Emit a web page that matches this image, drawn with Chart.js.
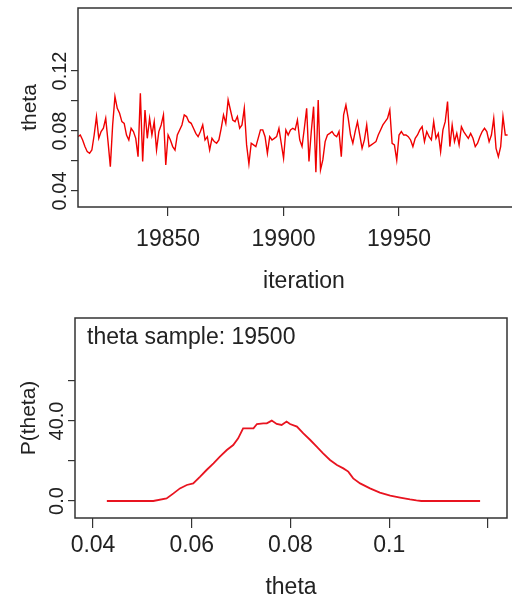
<!DOCTYPE html>
<html>
<head>
<meta charset="utf-8">
<script src="https://cdn.jsdelivr.net/npm/chart.js@4.4.0/dist/chart.umd.min.js"></script>
<style>
  html, body { margin: 0; padding: 0; background: #fff; overflow: hidden; }
  #wrap { position: relative; width: 512px; height: 601px; overflow: hidden; }
  #trace { position: absolute; left: 0; top: 0; }
  #dens { position: absolute; left: 0; top: 300px; }
</style>
</head>
<body>
<div id="wrap">
  <canvas id="trace" width="530" height="300"></canvas>
  <canvas id="dens" width="512" height="301"></canvas>
</div>
<script>
// trace plot: theta per iteration, starting at iteration 19811
const iterStart = 19811;
const thetaTrace = [
  0.0762,0.0773,0.074,0.0696,0.0662,0.0651,0.0673,0.0773,0.0896,0.0751,
  0.0796,0.0818,0.0884,0.0729,0.0562,0.084,0.1029,0.0951,0.0918,0.0862,
  0.0851,0.0773,0.074,0.0818,0.0796,0.0751,0.0629,0.1051,0.0596,0.094,
  0.0751,0.0884,0.0773,0.0862,0.0673,0.0796,0.084,0.0907,0.0573,0.0773,
  0.074,0.0696,0.0673,0.0773,0.0807,0.084,0.0907,
  0.0896,0.0862,0.0851,0.0818,0.0784,0.0762,0.0796,0.084,0.074,0.0762,
  0.0673,0.0751,0.0729,0.0718,0.074,0.0818,0.0907,0.0851,0.1007,0.094,
  0.0873,0.0862,0.0896,0.0818,0.084,0.0951,0.0707,0.058,0.0718,0.0707,
  0.0696,0.0751,0.0807,0.0807,0.0762,0.0651,0.0762,0.074,0.0751,0.0762,
  0.0818,0.0718,0.0618,0.0807,0.0773,0.0807,0.0818,
  0.0807,0.0873,0.074,0.0696,0.0818,0.0951,0.0596,0.0796,0.0962,0.0525,
  0.1007,0.054,0.0607,0.0729,0.0773,0.0784,0.0796,0.0773,0.0762,0.0796,
  0.0629,0.0907,0.0973,0.0884,0.0773,0.0718,0.0796,0.0862,0.0773,0.0684,
  0.074,0.084,0.0696,0.0707,0.0718,0.0729,0.0773,0.0807,0.084,0.0862,
  0.0884,0.094,0.0718,0.0707,0.0605,0.0773,0.0796,
  0.0773,0.0773,0.0762,0.074,0.0696,0.0751,0.0773,0.0807,0.0829,0.0729,
  0.0796,0.0762,0.074,0.0862,0.0751,0.0784,0.0662,0.0807,0.0862,0.0996,
  0.0696,0.084,0.0729,0.0784,0.0707,0.0829,0.0796,0.0773,0.0751,0.0784,
  0.0751,0.0696,0.0718,0.0762,0.0796,0.0818,0.0796,0.0729,0.0773,0.0884,
  0.0684,0.0629,0.0696,0.0896,0.0773,0.0773
];
const traceXTicks = [19850, 19900, 19950];
const traceYTicks = [0.04, 0.06, 0.08, 0.10, 0.12];
const traceYLabels = ['0.04', '', '0.08', '', '0.12'];

// density plot
const densTheta = [
  0.0428,0.0522,0.0549,0.0563,0.0576,0.059,0.0603,0.0617,0.063,0.0644,
  0.0657,0.0671,0.0684,0.0694,0.0704,0.0718,0.0725,0.0732,0.0745,0.0752,
  0.0762,0.0772,0.0782,0.0792,0.0799,0.0813,0.0826,0.084,0.0853,0.0866,
  0.088,0.0894,0.0907,0.0917,0.0927,0.0941,0.0961,0.0981,0.1002,0.1022,
  0.1042,0.1055,0.1065,0.1184
];
const densP = [
  0,0,1.3,3.8,6.3,8,8.8,12.2,15.5,18.8,
  22.2,25.5,28,31.3,36.3,36.3,36.3,38.5,38.8,38.8,
  40.2,38.5,38,39.7,38.5,37.2,33.8,30.5,27.2,23.8,
  20.5,18,16.3,14.7,11.3,8.8,6.3,4.2,2.7,1.7,
  0.8,0.3,0,0
];
const densXTicks = [0.04, 0.06, 0.08, 0.1, 0.12];
const densXLabels = ['0.04', '0.06', '0.08', '0.1', ''];
const densYTicks = [0, 20, 40, 60];
const densYLabels = ['0.0', '', '40.0', ''];
const noteText = 'theta sample: 19500';

const FAMILY = '"Liberation Sans", Arial, sans-serif';
const INK = '#222';

const boxPlugin = {
  id: 'box',
  afterDraw(chart) {
    const { ctx, chartArea: a } = chart;
    ctx.save();
    ctx.strokeStyle = '#333';
    ctx.lineWidth = 1.5;
    ctx.strokeRect(a.left, a.top, a.right - a.left, a.bottom - a.top);
    ctx.restore();
  }
};

const notePlugin = {
  id: 'note',
  afterDraw(chart) {
    if (chart.canvas.id !== 'dens') return;
    const ctx = chart.ctx;
    ctx.save();
    ctx.font = '23px ' + FAMILY;
    ctx.fillStyle = INK;
    ctx.textBaseline = 'middle';
    ctx.fillText(noteText, chart.chartArea.left + 12, chart.chartArea.top + 20);
    ctx.restore();
  }
};

function xAxis(min, max, ticks, labels, tickLen, pad, title, titlePad, height) {
  return {
    type: 'linear', min: min, max: max,
    afterBuildTicks: s => { s.ticks = ticks.map(v => ({ value: v })); },
    afterFit: s => { s.height = height; },
    ticks: {
      autoSkip: false, maxRotation: 0, padding: pad, color: INK,
      font: { family: FAMILY, size: 23 },
      callback: (v, i) => labels[i]
    },
    grid: { drawOnChartArea: false, tickLength: tickLen, color: '#333', lineWidth: 1.2 },
    border: { display: false },
    title: { display: true, text: title, color: INK, font: { family: FAMILY, size: 23 },
      padding: { top: 0, bottom: titlePad } }
  };
}

function yAxis(min, max, ticks, labels, width, title, titlePad) {
  return {
    type: 'linear', min: min, max: max,
    afterBuildTicks: s => { s.ticks = ticks.map(v => ({ value: v })); },
    afterFit: s => { s.width = width; },
    ticks: {
      autoSkip: false, minRotation: 90, maxRotation: 90, crossAlign: 'center',
      padding: -8.5, color: INK, font: { family: FAMILY, size: 20 },
      callback: (v, i) => labels[i]
    },
    grid: { drawOnChartArea: false, tickLength: 7, color: '#333', lineWidth: 1.2 },
    border: { display: false },
    title: { display: true, text: title, color: INK, font: { family: FAMILY, size: 21 },
      padding: { top: titlePad, bottom: 0 } }
  };
}

new Chart(document.getElementById('trace'), {
  type: 'line',
  data: {
    datasets: [{
      data: thetaTrace.map((v, i) => ({ x: iterStart + i, y: v })),
      borderColor: '#f00000',
      borderWidth: 1.4,
      pointRadius: 0,
      tension: 0
    }]
  },
  options: {
    responsive: false,
    animation: false,
    layout: { padding: { left: 0, top: 8, right: 0, bottom: 0 } },
    plugins: { legend: { display: false }, tooltip: { enabled: false } },
    scales: {
      x: xAxis(19811, 20006.7, traceXTicks, traceXTicks.map(String), 9, 10, 'iteration', 5, 93),
      y: yAxis(0.0293, 0.162, traceYTicks, traceYLabels, 78, 'theta', 18)
    }
  },
  plugins: [boxPlugin]
});

new Chart(document.getElementById('dens'), {
  type: 'line',
  data: {
    datasets: [{
      data: densTheta.map((t, i) => ({ x: t, y: densP[i] })),
      borderColor: '#e81420',
      borderWidth: 1.8,
      pointRadius: 0,
      tension: 0
    }]
  },
  options: {
    responsive: false,
    animation: false,
    layout: { padding: { left: 0, top: 18, right: 5, bottom: 0 } },
    plugins: { legend: { display: false }, tooltip: { enabled: false } },
    scales: {
      x: xAxis(0.03635, 0.12385, densXTicks, densXLabels, 10, 4, 'theta', 0, 83),
      y: yAxis(-8.5, 91.5, densYTicks, densYLabels, 75, 'P(theta)', 17)
    }
  },
  plugins: [boxPlugin, notePlugin]
});
</script>
</body>
</html>
